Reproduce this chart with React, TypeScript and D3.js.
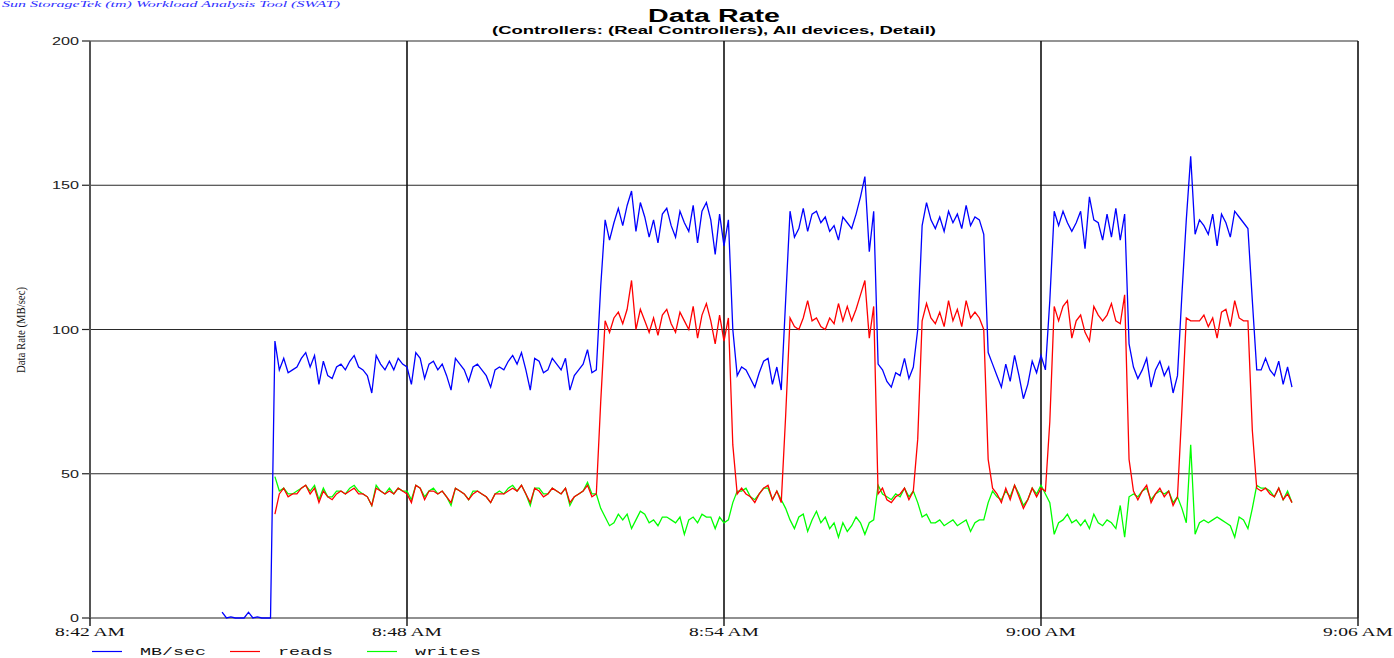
import React from "react";
import * as d3 from "d3";

// Sampling grid: one sample every 5 seconds starting at 8:44:30
const SAMPLE_START: [number, number, number] = [8, 44, 30];
const SAMPLE_STEP_S = 5;
// reads / writes only begin reporting at sample 12 (8:45:30)
const RW_OFFSET = 12;

// Idle period before the workload starts
const mbSecIdle = [2, 0, 0.4, 0, 0, 0, 2, 0, 0.4, 0, 0, 0];

// Total MB/sec from 8:45:30 onward
const mbSec = [
  // phase 1 (mixed)
  96, 86, 90, 85, 86, 87, 90, 92, 87, 91,
  81, 89, 84, 83, 87, 88, 86, 89, 91, 87,
  86, 84, 78, 91, 88, 86, 89, 86, 90, 88,
  87, 81, 92, 90, 83, 88, 89, 86, 88, 84,
  79, 90, 88, 86, 82, 87, 88, 86, 84, 80,
  86, 87, 86, 89, 91, 88, 92, 86, 79, 90,
  89, 85, 86, 90, 88, 86, 90, 79, 84, 86,
  88, 93, 85, 86,
  115,
  138, 131, 137, 142, 136, 143, 148, 134, 144, 139,
  132, 138, 130, 140, 142, 136, 132, 141, 137, 134,
  143, 130, 141, 144, 138, 126, 140, 129, 138,
  100,
  84, 87, 86, 83, 80, 85, 89, 90, 81, 87, 79,
  110,
  141, 132, 135, 142, 134, 140, 141, 137, 139, 134,
  136, 131, 139, 137, 135, 140, 146, 153, 127, 141,
  88, 86, 82, 80, 85, 84, 90, 83, 87,
  100,
  136, 144, 138, 135, 139, 134, 141, 137, 140, 135, 143, 136, 139, 138, 133,
  92,
  88, 84, 80, 88, 82, 91, 84, 76, 81, 89, 85, 91, 86,
  110,
  141, 136, 141, 137, 134, 137, 141, 128, 146, 138, 137, 131, 140, 132, 142, 131, 140,
  95,
  87, 83, 86, 90, 80, 86, 89, 84, 87, 78, 84,
  112,
  138, 160, 133, 138, 136, 133, 140, 129, 140, 137, 132, 141, 139, 137, 135,
  110,
  86, 86, 90, 86, 84, 89, 81, 87, 80,
];

const reads = [
  36, 43, 45, 42, 43, 43, 45, 46, 43, 45,
  40, 44, 42, 41, 43, 44, 43, 44, 45, 43,
  43, 42, 39, 45, 44, 43, 44, 43, 45, 44,
  43, 40, 46, 45, 41, 44, 44, 43, 44, 42,
  40, 45, 44, 43, 41, 43, 44, 43, 42, 40,
  43, 43, 43, 44, 45, 44, 46, 43, 40, 45,
  44, 42, 43, 45, 44, 43, 45, 40, 42, 43,
  44, 46, 42, 43,
  75,
  103, 99, 104, 106, 102, 107, 117, 100, 107, 103,
  99, 104, 98, 105, 107, 102, 99, 106, 103, 100,
  108, 97, 105, 109, 103, 95, 105, 96, 104,
  60,
  43, 45, 43, 42, 40, 43, 45, 46, 41, 44, 40,
  70,
  104, 101, 100, 104, 110, 103, 104, 101, 100, 104,
  102, 109, 103, 108, 103, 107, 112, 117, 97, 108,
  43, 45, 41, 40, 42, 43, 45, 41, 44,
  62,
  103, 109, 104, 102, 106, 101, 110, 103, 107, 101, 110, 104, 106, 104, 100,
  55,
  45, 43, 40, 45, 41, 46, 42, 38, 41, 45, 42, 45, 44,
  68,
  108, 103, 108, 110, 97, 103, 105, 99, 96, 108, 105, 103, 105, 109, 103, 102, 112,
  55,
  44, 41, 44, 46, 40, 43, 45, 42, 44, 39, 42,
  72,
  104, 103, 103, 103, 105, 101, 104, 97, 106, 107, 101, 110, 104, 103, 103,
  65,
  45, 44, 45, 43, 42, 45, 41, 43, 40,
];

const writes = [
  49, 44, 45, 43, 43, 44, 45, 46, 44, 46,
  41, 45, 42, 42, 44, 44, 43, 45, 46, 44,
  43, 42, 39, 46, 44, 43, 45, 43, 45, 44,
  44, 41, 46, 45, 42, 44, 45, 43, 44, 42,
  39, 45, 44, 43, 41, 44, 44, 43, 42, 40,
  43, 44, 43, 45, 46, 44, 46, 43, 39, 45,
  45, 43, 43, 45, 44, 43, 45, 39, 42, 43,
  44, 47, 43, 43,
  38,
  35, 32, 33, 36, 34, 36, 31, 34, 37, 36,
  33, 34, 32, 35, 35, 34, 33, 35, 29, 34,
  35, 33, 36, 35, 35, 31, 35, 33, 34,
  40,
  44, 44, 45, 42, 41, 43, 45, 45, 41, 44, 41,
  38,
  34, 31, 35, 36, 30, 34, 37, 33, 35, 31,
  33, 28, 33, 30, 32, 35, 33, 29, 33, 34,
  46, 43, 42, 41, 43, 42, 45, 42, 44,
  40,
  35, 36, 33, 33, 34, 32, 33, 34, 32, 33, 34, 30, 33, 34, 34,
  40,
  44, 42, 41, 44, 42, 46, 43, 39, 41, 45, 43, 46, 43,
  40,
  29, 33, 34, 36, 33, 34, 32, 34, 31, 36, 33, 32, 34, 33, 31, 39, 28,
  42,
  43, 42, 44, 45, 41, 43, 44, 43, 44, 40, 42,
  38,
  33, 60, 29, 33, 34, 33, 34, 35, 34, 33, 32, 28, 35, 34, 31,
  38,
  46, 45, 45, 44, 42, 45, 41, 44, 40,
];

const xTickTimes: [number, number][] = [[8, 42], [8, 48], [8, 54], [9, 0], [9, 6]];
const xTickLabels = ["8:42 AM", "8:48 AM", "8:54 AM", "9:00 AM", "9:06 AM"];
const yTicks = [0, 50, 100, 150, 200];

const seriesNames = ["MB/sec", "reads", "writes"];
const seriesColors = ["#0000ff", "#ff0000", "#00ff00"];

const W = 1394;
const H = 658;
const PLOT = { left: 90, right: 1358, top: 41, bottom: 618 };

const at = (h: number, m: number, s = 0) => new Date(2000, 0, 1, h, m, s);
const sampleTime = (k: number) =>
  new Date(at(...SAMPLE_START).getTime() + k * SAMPLE_STEP_S * 1000);

type Pt = { t: Date; v: number };

export default function App() {
  const x = d3
    .scaleTime()
    .domain([at(8, 42), at(9, 6)])
    .range([PLOT.left, PLOT.right]);
  const y = d3.scaleLinear().domain([0, 200]).range([PLOT.bottom, PLOT.top]);

  const totalPts: Pt[] = [...mbSecIdle, ...mbSec].map((v, k) => ({ t: sampleTime(k), v }));
  const readPts: Pt[] = reads.map((v, i) => ({ t: sampleTime(i + RW_OFFSET), v }));
  const writePts: Pt[] = writes.map((v, i) => ({ t: sampleTime(i + RW_OFFSET), v }));

  const line = d3
    .line<Pt>()
    .x((d) => x(d.t))
    .y((d) => y(d.v));

  const series = [totalPts, readPts, writePts];
  // draw order: total, writes, reads (reads sit on top)
  const drawOrder = [0, 2, 1];

  const legendX = [92, 230, 367];

  return (
    <svg
      width={W}
      height={H}
      style={{ position: "absolute", left: 0, top: 0, background: "#fff" }}
    >
      <rect x={0} y={0} width={W} height={H} fill="#fff" />

      <text
        x={2}
        y={7}
        fontFamily="'Liberation Serif', serif"
        fontStyle="italic"
        fontSize={9}
        fill="#3030ff"
        textLength={338}
        lengthAdjust="spacingAndGlyphs"
      >
        Sun StorageTek (tm) Workload Analysis Tool (SWAT)
      </text>

      <text
        x={714}
        y={22}
        textAnchor="middle"
        fontFamily="'Liberation Sans', Arial, sans-serif"
        fontWeight="bold"
        fontSize={18}
        textLength={132}
        lengthAdjust="spacingAndGlyphs"
      >
        Data Rate
      </text>
      <text
        x={714}
        y={34}
        textAnchor="middle"
        fontFamily="'Liberation Sans', Arial, sans-serif"
        fontWeight="bold"
        fontSize={11.5}
        textLength={444}
        lengthAdjust="spacingAndGlyphs"
      >
        (Controllers: (Real Controllers), All devices, Detail)
      </text>

      {/* horizontal grid + y ticks */}
      {yTicks.map((v) => {
        const label = String(v);
        return (
          <g key={`y${v}`}>
            {v > 0 && (
              <line
                x1={PLOT.left}
                x2={PLOT.right}
                y1={y(v)}
                y2={y(v)}
                stroke="#2a2a2a"
                strokeWidth={1.2}
              />
            )}
            <line x1={PLOT.left - 8} x2={PLOT.left} y1={y(v)} y2={y(v)} stroke="#222" strokeWidth={1.2} />
            <text
              x={79}
              y={y(v) + 4}
              textAnchor="end"
              fontFamily="'Liberation Sans', Arial, sans-serif"
              fontSize={11}
              fill="#222"
              textLength={label.length * 9}
              lengthAdjust="spacingAndGlyphs"
            >
              {label}
            </text>
          </g>
        );
      })}

      {/* vertical grid + x ticks */}
      {xTickTimes.map(([h, m], i) => {
        const xx = x(at(h, m));
        return (
          <g key={`x${i}`}>
            {i > 0 && (
              <line x1={xx} x2={xx} y1={PLOT.top} y2={PLOT.bottom} stroke="#111" strokeWidth={1.6} />
            )}
            <line x1={xx} x2={xx} y1={PLOT.bottom} y2={PLOT.bottom + 8} stroke="#111" strokeWidth={1.4} />
            <text
              x={xx}
              y={635.5}
              textAnchor="middle"
              fontFamily="'Liberation Serif', serif"
              fontSize={12.5}
              fill="#111"
              textLength={70}
              lengthAdjust="spacingAndGlyphs"
            >
              {xTickLabels[i]}
            </text>
          </g>
        );
      })}

      {/* axes */}
      <line x1={PLOT.left} x2={PLOT.right} y1={PLOT.bottom} y2={PLOT.bottom} stroke="#222" strokeWidth={1.2} />
      <line x1={PLOT.left} x2={PLOT.left} y1={PLOT.top} y2={PLOT.bottom} stroke="#555" strokeWidth={2} />

      <text
        transform={`translate(25, 330) rotate(-90)`}
        textAnchor="middle"
        fontFamily="'Liberation Serif', serif"
        fontSize={12.5}
        fill="#111"
        textLength={86}
        lengthAdjust="spacingAndGlyphs"
      >
        Data Rate (MB/sec)
      </text>

      {/* data lines */}
      {drawOrder.map((s) => (
        <path
          key={seriesNames[s]}
          d={line(series[s]) || ""}
          fill="none"
          stroke={seriesColors[s]}
          strokeWidth={1.3}
          strokeLinejoin="miter"
        />
      ))}

      {/* legend */}
      {seriesNames.map((name, i) => (
        <g key={name}>
          <line
            x1={legendX[i]}
            x2={legendX[i] + 30}
            y1={651.5}
            y2={651.5}
            stroke={seriesColors[i]}
            strokeWidth={1.2}
          />
          <text
            x={legendX[i] + 48}
            y={655}
            fontFamily="'Liberation Mono', monospace"
            fontSize={11.5}
            fill="#111"
            textLength={name.length * 11}
            lengthAdjust="spacingAndGlyphs"
          >
            {name}
          </text>
        </g>
      ))}
    </svg>
  );
}
